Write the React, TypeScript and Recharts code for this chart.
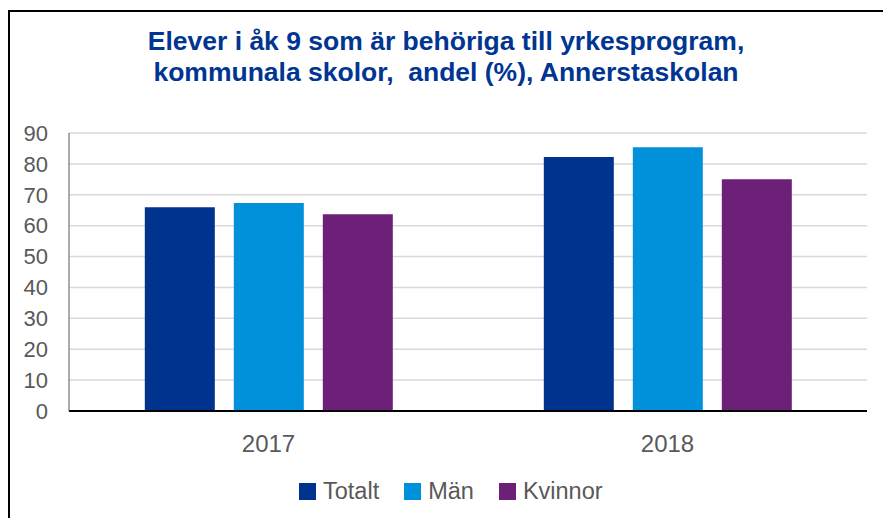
import { BarChart, Bar, XAxis, YAxis, CartesianGrid } from 'recharts';

const years = ['2017', '2018'];
const totalt = [66, 82.2];
const man = [67.3, 85.4];
const kvinnor = [63.7, 75];
const yTicks = [0, 10, 20, 30, 40, 50, 60, 70, 80, 90];

const SERIES = [
  { key: 'Totalt', color: '#00338D' },
  { key: 'Män', color: '#0091DA' },
  { key: 'Kvinnor', color: '#6D2077' }
];

const data = years.map((y, i) => ({
  year: y,
  Totalt: totalt[i],
  Män: man[i],
  Kvinnor: kvinnor[i]
}));

const FONT = '"Liberation Sans", Arial, sans-serif';

export default function App() {
  return (
    <div style={{ position: 'absolute', left: 0, top: 0, width: 883, height: 518, background: '#fff', overflow: 'hidden' }}>
      <div
        style={{
          position: 'absolute',
          left: 8,
          top: 10,
          width: 900,
          height: 540,
          borderLeft: '2px solid #000',
          borderTop: '2px solid #000'
        }}
      />
      <div
        style={{
          position: 'absolute',
          left: 0,
          top: 26,
          width: 892,
          textAlign: 'center',
          fontFamily: FONT,
          fontWeight: 'bold',
          fontSize: 26.5,
          lineHeight: '31px',
          color: '#003591'
        }}
      >
        Elever i åk 9 som är behöriga till yrkesprogram,
        <br />
        kommunala skolor,&nbsp; andel (%), Annerstaskolan
      </div>
      <BarChart
        width={883}
        height={518}
        data={data}
        margin={{ top: 133, right: 16, bottom: 77, left: 9 }}
        barCategoryGap="19%"
        barGap={19}
        style={{ position: 'absolute', left: 0, top: 0 }}
      >
        <CartesianGrid vertical={false} stroke="#d9d9d9" strokeWidth={1.5} />
        <XAxis
          dataKey="year"
          height={30}
          axisLine={{ stroke: '#000', strokeWidth: 2 }}
          tickLine={false}
          tickSize={0}
          tickMargin={24}
          tick={{ fill: '#595959', fontSize: 24, fontFamily: FONT }}
        />
        <YAxis
          width={60}
          domain={[0, 90]}
          ticks={yTicks}
          interval={0}
          axisLine={{ stroke: '#595959', strokeWidth: 1 }}
          tickLine={false}
          tickSize={0}
          tickMargin={21}
          tick={{ fill: '#595959', fontSize: 22, fontFamily: FONT }}
        />
        <YAxis
          yAxisId="right"
          orientation="right"
          width={0}
          domain={[0, 90]}
          tick={false}
          tickLine={false}
          axisLine={{ stroke: '#808080', strokeWidth: 2 }}
        />
        {SERIES.map(s => (
          <Bar key={s.key} dataKey={s.key} fill={s.color} isAnimationActive={false} />
        ))}
      </BarChart>
      {/* legend, square markers */}
      <div
        style={{
          position: 'absolute',
          left: 299,
          top: 477,
          display: 'flex',
          alignItems: 'center',
          fontFamily: FONT,
          fontSize: 23.5,
          lineHeight: '28px',
          color: '#595959'
        }}
      >
        {SERIES.map(s => (
          <div key={s.key} style={{ display: 'flex', alignItems: 'center', marginRight: 25 }}>
            <span style={{ width: 17, height: 17, background: s.color, display: 'inline-block', marginRight: 7 }} />
            <span>{s.key}</span>
          </div>
        ))}
      </div>
    </div>
  );
}
